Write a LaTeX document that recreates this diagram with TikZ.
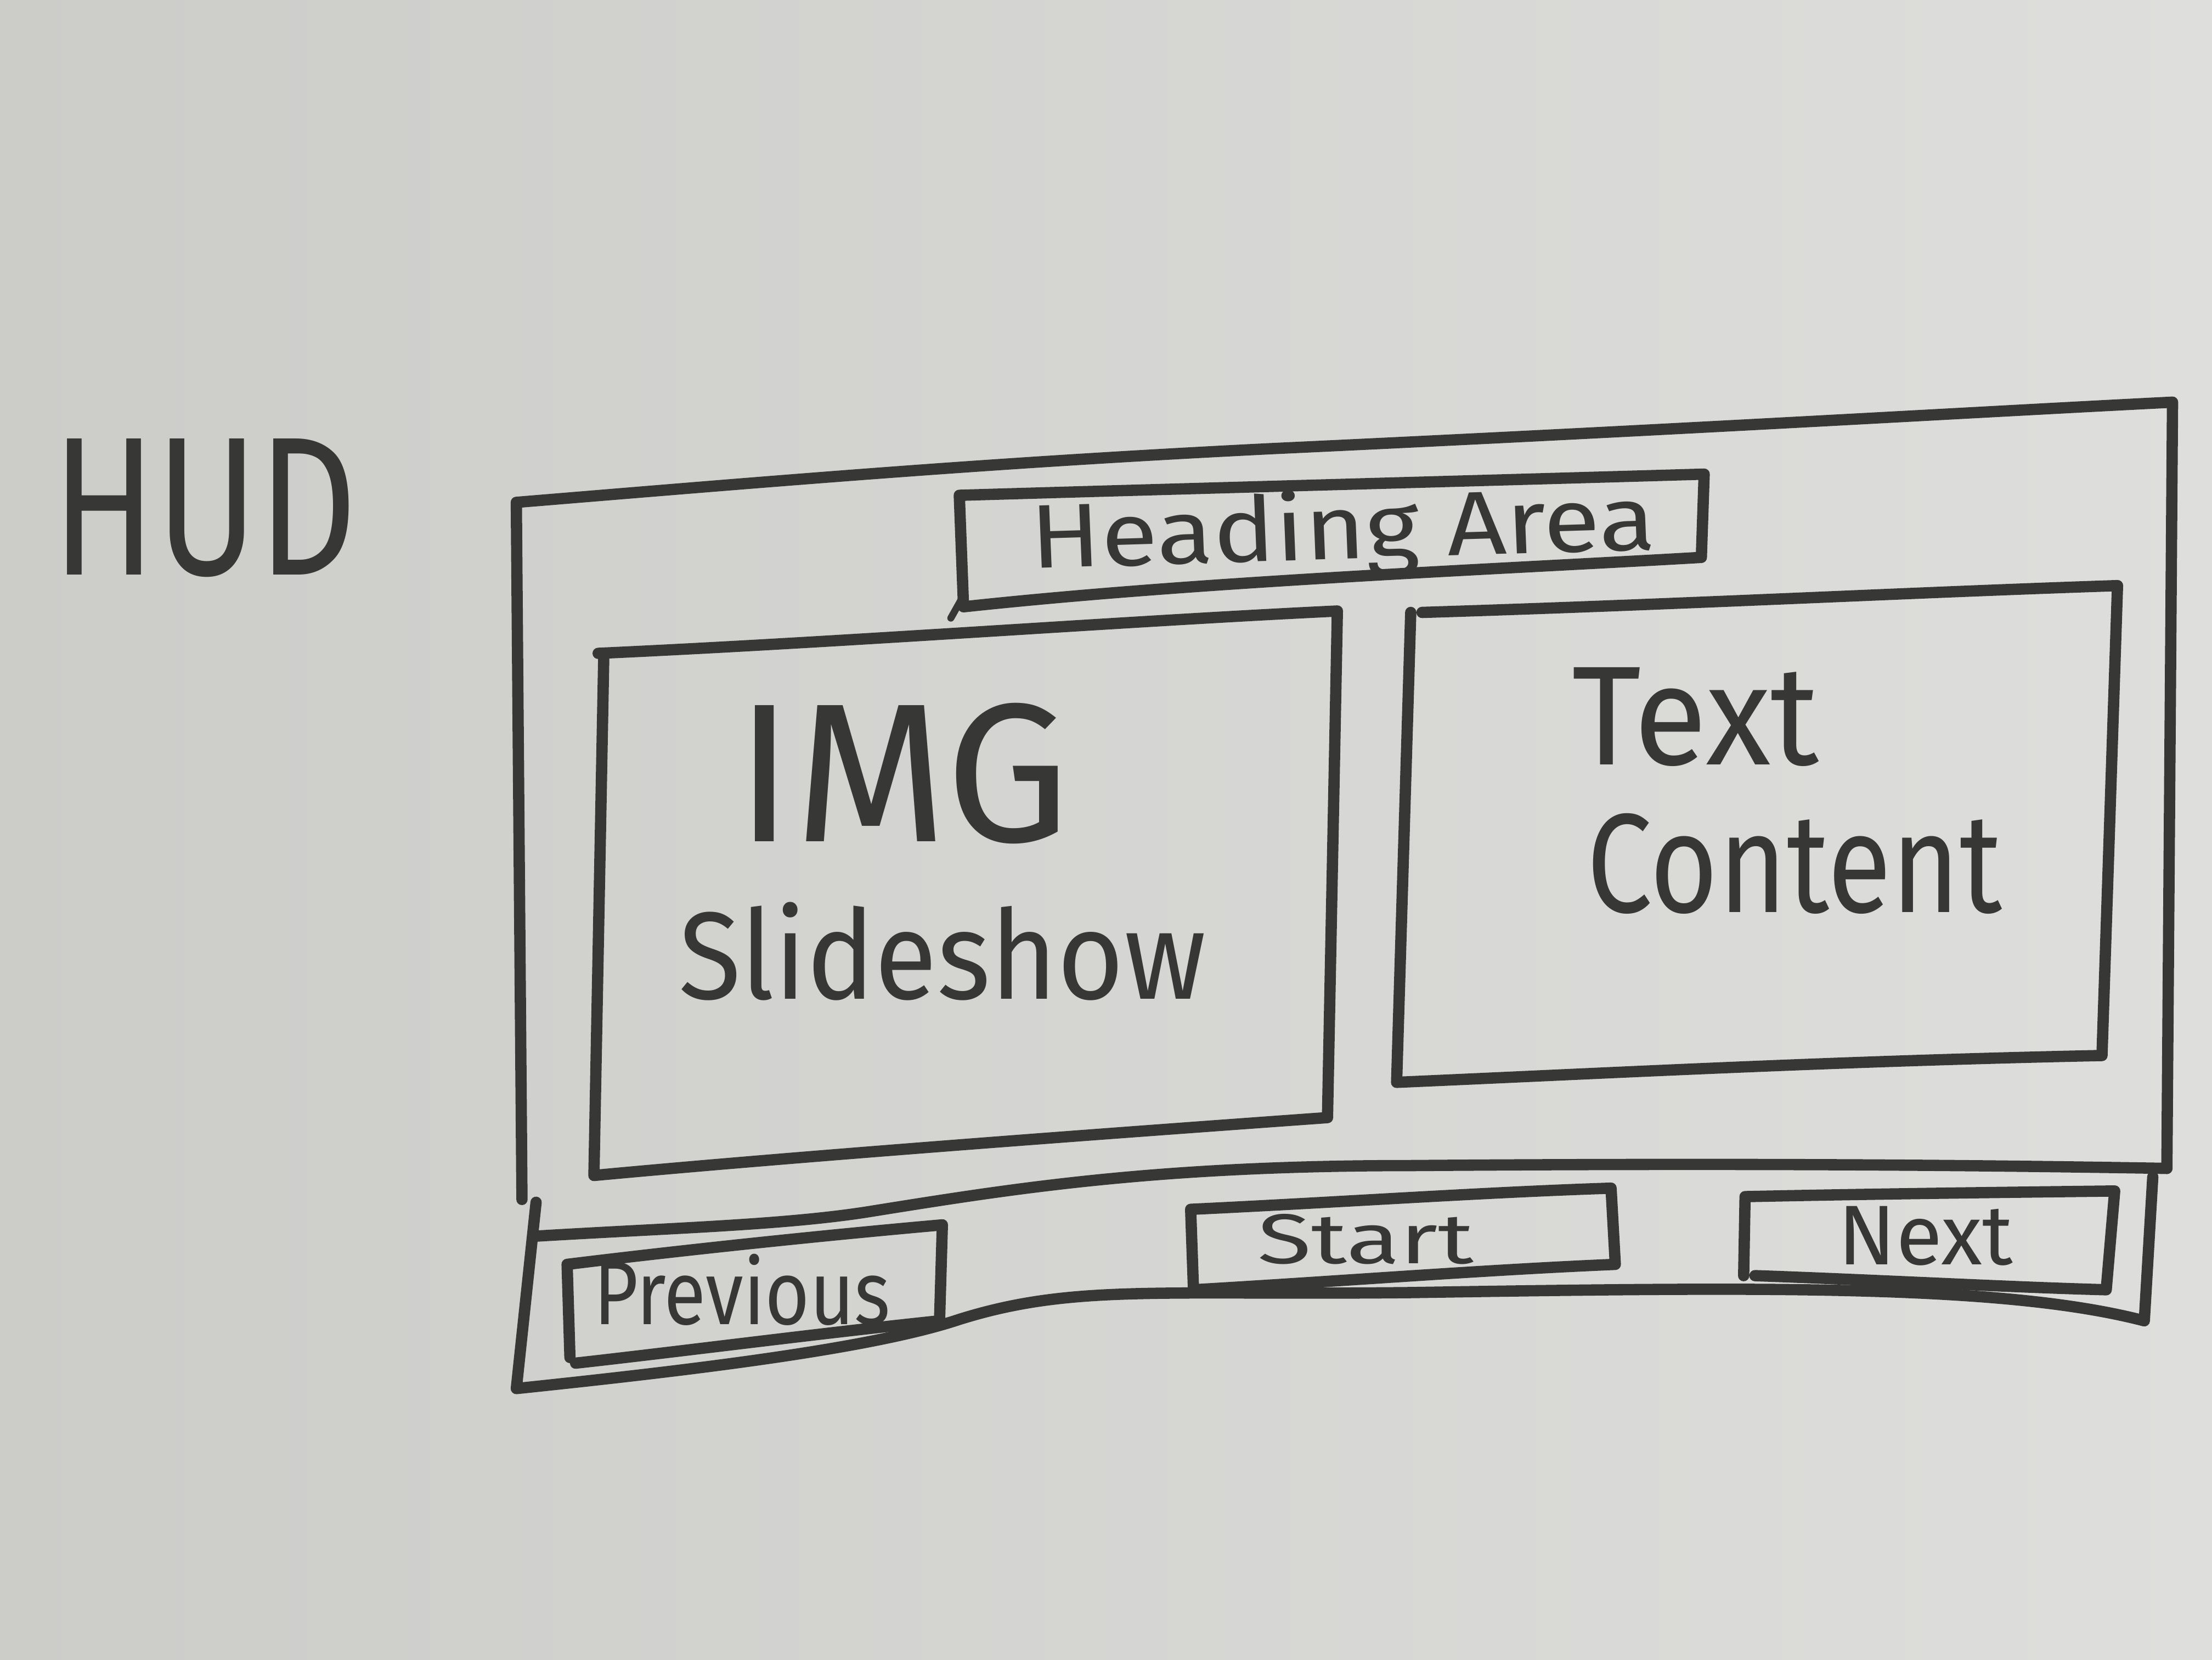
\documentclass[tikz,border=0pt]{standalone}
\usepackage{fontspec}
\setmainfont{Fira Sans}
\definecolor{inkc}{RGB}{55,55,53}
\definecolor{boardL}{RGB}{204,204,201}
\definecolor{boardR}{RGB}{222,222,220}
\begin{document}
\begin{tikzpicture}[x=1pt,y=-1pt,
  ink/.style={draw=inkc, line width=8pt, line cap=round, line join=round},
  fine/.style={draw=inkc, line width=5pt, line cap=round, line join=round},
  lbl/.style={text=inkc, inner sep=0pt}]
% whiteboard
\shade[left color=boardL, right color=boardR] (0,0) rectangle (1568,1176);
\useasboundingbox (0,0) rectangle (1568,1176);

% title
\node[lbl, font=\fontsize{140}{150}\selectfont, xscale=0.78] (hud) at (145,360) {HUD};

% outer frame
\draw[ink] (370,850) -- (366,356) .. controls (560,340) and (700,328) .. (900,318)
  .. controls (1200,304) and (1400,292) .. (1540,285) -- (1536,828);

% heading area
\draw[ink] (683,430) -- (680,351) .. controls (850,346) and (1000,342) .. (1208,336)
  -- (1206,395) .. controls (1050,404) and (850,412) .. (683,430);
\draw[fine] (683,422) -- (674,438);
\node[lbl, font=\fontsize{64}{70}\selectfont, xscale=1.15, rotate=2] (head) at (952,378) {Heading Area};

% image slideshow panel
\draw[ink] (424,463) .. controls (600,455) and (800,440) .. (948,433)
  -- (941,792) .. controls (760,805) and (560,820) .. (421,833) -- (428,464);
\node[lbl, font=\fontsize{140}{150}\selectfont] (img) at (640,548) {IMG};
\node[lbl, font=\fontsize{88}{96}\selectfont, xscale=0.92] (slides) at (668,674) {Slideshow};

% text content panel
\draw[ink] (1008,434) .. controls (1200,428) and (1350,420) .. (1501,415)
  -- (1490,748) .. controls (1300,752) and (1150,760) .. (990,767) -- (1000,434);
\node[lbl, font=\fontsize{100}{110}\selectfont, xscale=0.95] (txt) at (1202,508) {Text};
\node[lbl, font=\fontsize{100}{110}\selectfont, xscale=0.83] (cont) at (1272,612) {Content};

% navigation bar
\draw[ink] (380,852) -- (366,984) .. controls (500,970) and (620,955) .. (680,935)
  .. controls (760,910) and (820,918) .. (1000,916)
  .. controls (1250,912) and (1420,910) .. (1520,936) -- (1526,834);
\draw[ink] (380,876) .. controls (480,870) and (560,868) .. (620,858)
  .. controls (720,842) and (820,826) .. (1000,826)
  .. controls (1250,824) and (1420,826) .. (1536,828);

% previous button
\draw[ink] (404,962) -- (402,896) .. controls (500,884) and (600,874) .. (668,868)
  -- (666,936) .. controls (580,945) and (480,958) .. (408,966);
\node[lbl, font=\fontsize{64}{70}\selectfont, xscale=0.85] (prev) at (526,914) {Previous};

% start button
\draw[ink] (846,914) -- (844,857) .. controls (950,852) and (1050,845) .. (1142,842)
  -- (1145,896) .. controls (1050,900) and (950,908) .. (846,914);
\node[lbl, font=\fontsize{50}{56}\selectfont, xscale=1.4] (start) at (968,878) {Start};

% next button
\draw[ink] (1236,904) -- (1237,848) .. controls (1330,846) and (1420,845) .. (1499,844)
  -- (1493,914) .. controls (1420,912) and (1330,907) .. (1244,904);
\node[lbl, font=\fontsize{60}{66}\selectfont] (next) at (1365,876) {Next};
\end{tikzpicture}
\end{document}
